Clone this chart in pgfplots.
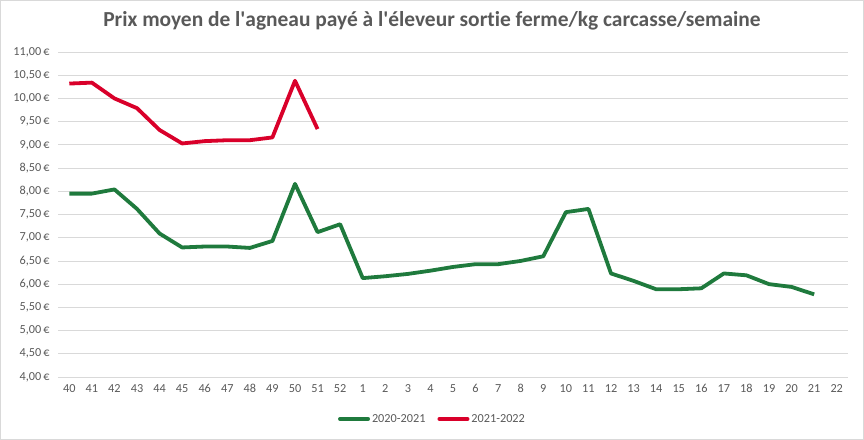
\documentclass[border=0pt]{standalone}
\usepackage{pgfplots}
\pgfplotsset{compat=1.18}
\usepackage{fontspec}
\setmainfont{Carlito}[Ligatures=NoCommon]
\definecolor{vert}{RGB}{31,122,61}
\definecolor{rouge}{RGB}{217,0,42}
\definecolor{txt}{RGB}{89,89,89}
\definecolor{grille}{RGB}{217,217,217}
\begin{document}
\begin{tikzpicture}[x=1bp,y=1bp]
\draw[grille, line width=0.75bp] (0.5,0.5) rectangle (863.5,439.5);
\node[text=txt, font=\fontsize{21.5}{25}\selectfont\bfseries] at (432,419) {Prix moyen de l\textquotesingle agneau payé à l\textquotesingle éleveur sortie ferme/kg carcasse/semaine};
\begin{axis}[
  at={(58bp,63bp)}, anchor=south west,
  scale only axis, width=790bp, height=325bp,
  xmin=-0.5, xmax=34.5, ymin=4, ymax=11,
  axis line style={draw=none},
  ymajorgrids, grid style={grille, line width=0.75bp},
  ytick={4,4.5,...,11},
  xtick={0,...,34},
  xticklabels={40,41,42,43,44,45,46,47,48,49,50,51,52,1,2,3,4,5,6,7,8,9,10,11,12,13,14,15,16,17,18,19,20,21,22},
  /pgf/number format/assume math mode=true,
  yticklabel={\pgfmathprintnumber[fixed,fixed zerofill,precision=2,use comma]{\tick}\,€},
  ticklabel style={text=txt, font=\fontsize{12.3}{14}\selectfont},
  major tick length=0pt,
  xticklabel style={yshift=-4bp},
  yticklabel style={xshift=-5bp},
  legend columns=2,
  legend style={at={(0.474,-0.129)}, anchor=center, draw=none, fill=none, font=\fontsize{12.3}{14}\selectfont, text=txt, inner sep=0pt, /tikz/every even column/.append style={column sep=10bp}},
  legend image code/.code={\draw[#1, line width=4bp, line cap=round] (0bp,0bp) -- (28bp,0bp);},
  clip=false,
]
\addplot[vert, line width=3.8bp, line join=round] coordinates {
(0,7.95) (1,7.95) (2,8.04) (3,7.62) (4,7.09) (5,6.79) (6,6.81) (7,6.81) (8,6.78) (9,6.93)
(10,8.16) (11,7.12) (12,7.29) (13,6.13) (14,6.17) (15,6.22) (16,6.29) (17,6.37) (18,6.43) (19,6.43)
(20,6.50) (21,6.60) (22,7.55) (23,7.62) (24,6.23) (25,6.07) (26,5.89) (27,5.89) (28,5.91) (29,6.23)
(30,6.19) (31,6.00) (32,5.94) (33,5.78)
};
\addlegendentry{2020-2021}
\addplot[rouge, line width=3.8bp, line join=round] coordinates {
(0,10.32) (1,10.34) (2,10.00) (3,9.79) (4,9.32) (5,9.03) (6,9.08) (7,9.10) (8,9.10) (9,9.16)
(10,10.38) (11,9.34)
};
\addlegendentry{2021-2022}
\end{axis}
\pgfresetboundingbox
\useasboundingbox (0,0) rectangle (864,440);
\end{tikzpicture}
\end{document}
